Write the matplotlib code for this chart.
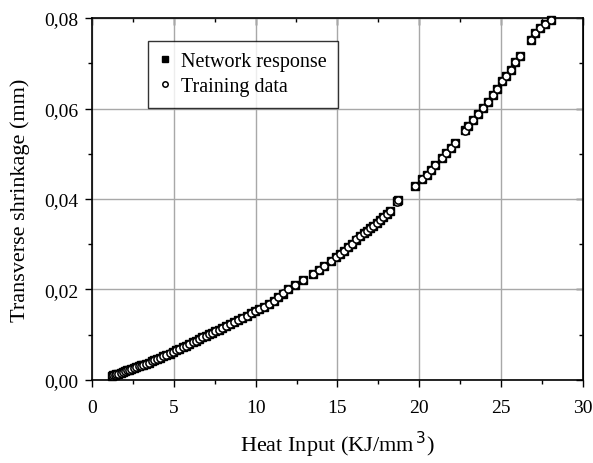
import matplotlib
matplotlib.use("Agg")
from matplotlib import pyplot as plt
from matplotlib.ticker import MultipleLocator, FuncFormatter

plt.rcParams["font.family"] = ["Liberation Serif", "DejaVu Serif"]

# heat input (KJ/mm^3) and transverse shrinkage (mm)
heat_input = [1.20, 1.30, 1.40, 1.50, 1.62, 1.75, 1.88, 2.00, 2.12, 2.25,
              2.40, 2.55, 2.70, 2.85, 3.00, 3.15, 3.30, 3.48, 3.65, 3.82,
              4.00, 4.18, 4.35, 4.55, 4.75, 4.95, 5.15, 5.35, 5.55, 5.75,
              5.95, 6.15, 6.35, 6.55, 6.75, 6.95, 7.15, 7.35, 7.55, 7.75,
              7.95, 8.20, 8.45, 8.70, 8.95, 9.20, 9.45, 9.70, 9.95,
              10.20, 10.50, 10.80, 11.10, 11.40, 11.70, 12.00, 12.40, 12.90, 13.50,
              13.90, 14.20, 14.60, 14.90, 15.15, 15.40, 15.65, 15.90, 16.15, 16.40,
              16.60, 16.80, 17.00, 17.20, 17.40, 17.60, 17.80, 18.00, 18.20, 18.65,
              18.72,
              19.77, 20.14, 20.45, 20.69, 20.97, 21.36, 21.62, 21.91, 22.17,
              22.79, 22.99, 23.29, 23.60, 23.87, 24.21, 24.51, 24.78, 25.07, 25.33,
              25.58, 25.86, 26.14,
              26.80, 27.06, 27.37, 27.69, 28.08]

training = [0.0009, 0.0010, 0.0011, 0.0013, 0.0014, 0.0016, 0.0018, 0.0019, 0.0021, 0.0022,
            0.0024, 0.0026, 0.0028, 0.0030, 0.0031, 0.0034, 0.0036, 0.0038, 0.0041, 0.0043,
            0.0046, 0.0049, 0.0052, 0.0055, 0.0059, 0.0062, 0.0066, 0.0069, 0.0073, 0.0076,
            0.0080, 0.0083, 0.0087, 0.0090, 0.0094, 0.0097, 0.0101, 0.0104, 0.0108, 0.0111,
            0.0115, 0.0120, 0.0124, 0.0129, 0.0133, 0.0138, 0.0142, 0.0147, 0.0152,
            0.0156, 0.0162, 0.0168, 0.0175, 0.0183, 0.0192, 0.0200, 0.0210, 0.0221, 0.0234,
            0.0242, 0.0251, 0.0263, 0.0271, 0.0278, 0.0285, 0.0293, 0.0301, 0.0311, 0.0318,
            0.0324, 0.0329, 0.0335, 0.0341, 0.0347, 0.0354, 0.0360, 0.0367, 0.0374, 0.0394,
            0.0397,
            0.0429, 0.0444, 0.0454, 0.0465, 0.0476, 0.0490, 0.0502, 0.0513, 0.0524,
            0.0551, 0.0562, 0.0574, 0.0588, 0.0601, 0.0615, 0.0630, 0.0643, 0.0660, 0.0671,
            0.0686, 0.0702, 0.0715,
            0.0752, 0.0768, 0.0778, 0.0787, 0.0796]

network = [0.0009, 0.0010, 0.0011, 0.0013, 0.0014, 0.0016, 0.0018, 0.0019, 0.0021, 0.0022,
           0.0024, 0.0026, 0.0028, 0.0030, 0.0032, 0.0034, 0.0036, 0.0038, 0.0041, 0.0043,
           0.0046, 0.0049, 0.0052, 0.0055, 0.0058, 0.0062, 0.0066, 0.0069, 0.0073, 0.0076,
           0.0080, 0.0083, 0.0087, 0.0090, 0.0094, 0.0097, 0.0101, 0.0104, 0.0108, 0.0111,
           0.0115, 0.0120, 0.0124, 0.0129, 0.0133, 0.0138, 0.0142, 0.0147, 0.0152,
           0.0157, 0.0162, 0.0168, 0.0175, 0.0183, 0.0191, 0.0200, 0.0210, 0.0221, 0.0234,
           0.0242, 0.0251, 0.0262, 0.0271, 0.0278, 0.0286, 0.0293, 0.0301, 0.0310, 0.0318,
           0.0324, 0.0329, 0.0335, 0.0341, 0.0347, 0.0354, 0.0360, 0.0367, 0.0374, 0.0395,
           0.0397,
           0.0429, 0.0444, 0.0454, 0.0465, 0.0476, 0.0490, 0.0502, 0.0513, 0.0524,
           0.0553, 0.0562, 0.0574, 0.0588, 0.0601, 0.0615, 0.0630, 0.0643, 0.0660, 0.0671,
           0.0686, 0.0702, 0.0715,
           0.0752, 0.0768, 0.0778, 0.0787, 0.0796]

fig = plt.figure(figsize=(5.93, 4.64), dpi=100)
ax = fig.add_axes([0.155, 0.179, 0.828, 0.780])

ax.grid(True, color="#a8a8a8", linewidth=1.0, zorder=0)
ax.set_axisbelow(True)

ax.plot(heat_input, network, "s", color="black", markersize=5.5,
        linestyle="none", label="Network response", zorder=3, clip_on=False)
ax.plot(heat_input, training, "o", markerfacecolor="white", markeredgecolor="black",
        markeredgewidth=1.1, markersize=5.2, linestyle="none",
        label="Training data", zorder=4, clip_on=False)

ax.set_xlim(0, 30)
ax.set_ylim(0, 0.08)
ax.xaxis.set_major_locator(MultipleLocator(5))
ax.xaxis.set_minor_locator(MultipleLocator(2.5))
ax.yaxis.set_major_locator(MultipleLocator(0.02))
ax.yaxis.set_minor_locator(MultipleLocator(0.01))
ax.yaxis.set_major_formatter(FuncFormatter(lambda v, p: f"{v:.2f}".replace(".", ",")))

ax.tick_params(which="both", direction="out", top=False, right=False,
               labelsize=14, width=1.0, colors="black")
ax.tick_params(which="major", length=5)
ax.tick_params(which="minor", length=3)
ax.tick_params(axis="x", which="major", pad=9)
ax.tick_params(axis="y", which="major", pad=5)
for side in ("top", "right"):
    sec = ax.secondary_xaxis("top") if side == "top" else ax.secondary_yaxis("right")
    sec.tick_params(which="both", direction="in", labelsize=0, width=1.0)
    sec.tick_params(which="major", length=5)
    sec.tick_params(which="minor", length=3)
    if side == "top":
        sec.xaxis.set_major_locator(MultipleLocator(5))
        sec.xaxis.set_minor_locator(MultipleLocator(2.5))
        sec.set_xticklabels([])
    else:
        sec.yaxis.set_major_locator(MultipleLocator(0.02))
        sec.yaxis.set_minor_locator(MultipleLocator(0.01))
        sec.set_yticklabels([])
for s in ax.spines.values():
    s.set_linewidth(1.2)

ax.set_xlabel("Heat Input (KJ/mm$^{\\,3}$)", fontsize=16, labelpad=9)
ax.set_ylabel("Transverse shrinkage (mm)", fontsize=16, labelpad=10)

leg = ax.legend(loc="upper left", bbox_to_anchor=(0.114, 0.936), borderaxespad=0,
                fontsize=14.5, frameon=True, fancybox=False, edgecolor="black",
                handlelength=0.6, handletextpad=0.5, markerscale=0.75,
                borderpad=0.55, labelspacing=0.3)
leg.get_frame().set_linewidth(1.0)

fig.savefig("out.png", dpi=100)
